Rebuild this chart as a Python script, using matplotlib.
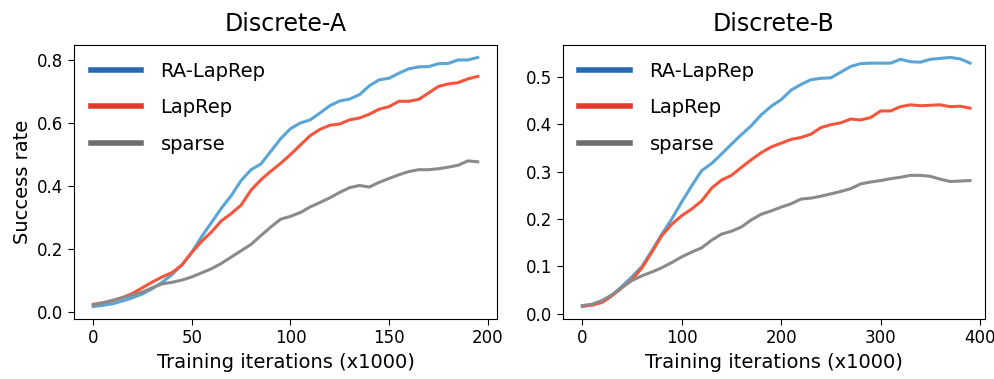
import matplotlib.pyplot as plt
import numpy as np
from matplotlib.lines import Line2D

# Discrete-A: evaluated every 5k iterations
iters_a = np.arange(0, 200, 5)
ra_laprep_a = [0.018, 0.022, 0.027, 0.036, 0.046, 0.058, 0.075, 0.095, 0.120, 0.150,
               0.190, 0.240, 0.285, 0.330, 0.370, 0.418, 0.452, 0.470, 0.510, 0.550,
               0.582, 0.600, 0.610, 0.632, 0.655, 0.670, 0.676, 0.690, 0.718, 0.737,
               0.742, 0.758, 0.772, 0.778, 0.779, 0.788, 0.789, 0.800, 0.800, 0.808]
laprep_a = [0.025, 0.030, 0.037, 0.047, 0.060, 0.078, 0.096, 0.112, 0.126, 0.150,
            0.190, 0.225, 0.255, 0.290, 0.313, 0.340, 0.387, 0.420, 0.447, 0.472,
            0.500, 0.530, 0.560, 0.580, 0.593, 0.597, 0.610, 0.616, 0.628, 0.644,
            0.652, 0.669, 0.669, 0.675, 0.695, 0.716, 0.724, 0.728, 0.740, 0.748]
sparse_a = [0.022, 0.030, 0.038, 0.046, 0.055, 0.064, 0.078, 0.090, 0.095, 0.102,
            0.112, 0.125, 0.138, 0.155, 0.175, 0.195, 0.215, 0.243, 0.270, 0.295,
            0.304, 0.316, 0.334, 0.348, 0.363, 0.380, 0.395, 0.402, 0.397, 0.412,
            0.424, 0.436, 0.446, 0.452, 0.452, 0.455, 0.460, 0.466, 0.480, 0.477]

# Discrete-B: evaluated every 10k iterations
iters_b = np.arange(0, 400, 10)
ra_laprep_b = [0.015, 0.019, 0.025, 0.039, 0.058, 0.078, 0.100, 0.133, 0.168, 0.200,
               0.236, 0.270, 0.302, 0.317, 0.337, 0.358, 0.378, 0.397, 0.420, 0.438,
               0.452, 0.472, 0.484, 0.494, 0.497, 0.498, 0.510, 0.522, 0.528, 0.529,
               0.529, 0.529, 0.537, 0.532, 0.531, 0.537, 0.539, 0.541, 0.538, 0.529]
laprep_b = [0.016, 0.018, 0.024, 0.038, 0.055, 0.072, 0.097, 0.130, 0.165, 0.189,
            0.207, 0.221, 0.238, 0.265, 0.282, 0.292, 0.309, 0.325, 0.340, 0.352,
            0.360, 0.368, 0.372, 0.379, 0.393, 0.399, 0.403, 0.411, 0.409, 0.414,
            0.428, 0.428, 0.437, 0.441, 0.439, 0.440, 0.441, 0.437, 0.438, 0.434]
sparse_b = [0.017, 0.020, 0.028, 0.040, 0.056, 0.070, 0.080, 0.088, 0.097, 0.108,
            0.120, 0.130, 0.139, 0.155, 0.168, 0.174, 0.183, 0.198, 0.210, 0.217,
            0.225, 0.232, 0.242, 0.244, 0.248, 0.253, 0.258, 0.264, 0.274, 0.278,
            0.281, 0.285, 0.288, 0.292, 0.292, 0.290, 0.284, 0.279, 0.280, 0.281]

labels = ['RA-LapRep', 'LapRep', 'sparse']
line_colors = ['#5aa4d6', '#f4563d', '#8a8a8a']
legend_colors = ['#2469ad', '#e3382b', '#6e6e6e']

plt.rcParams['font.family'] = ['DejaVu Sans']

fig = plt.figure(figsize=(9.95, 3.79), dpi=100)
ax_a = fig.add_axes([0.0744, 0.1583, 0.4251, 0.7230])
ax_b = fig.add_axes([0.5658, 0.1583, 0.4241, 0.7230])

panels = [
    (ax_a, 'Discrete-A', iters_a, [ra_laprep_a, laprep_a, sparse_a]),
    (ax_b, 'Discrete-B', iters_b, [ra_laprep_b, laprep_b, sparse_b]),
]

for ax, title, x, series in panels:
    for y, c in zip(series, line_colors):
        ax.plot(x, y, color=c, linewidth=2.2)
    ax.set_title(title, fontsize=17, pad=10)
    ax.set_xlabel('Training iterations (x1000)', fontsize=14)
    ax.tick_params(labelsize=12, length=4)
    handles = [Line2D([0], [0], color=c, linewidth=4) for c in legend_colors]
    ax.legend(handles, labels, loc='upper left', frameon=False, fontsize=14,
              handlelength=2.6, handletextpad=1.0, labelspacing=0.9,
              borderaxespad=0.45)

ax_a.set_ylabel('Success rate', fontsize=14)
ax_a.set_yticks([0.0, 0.2, 0.4, 0.6, 0.8])
ax_b.set_xlim(-19.5, 405)

fig.savefig('out.png', dpi=100)
